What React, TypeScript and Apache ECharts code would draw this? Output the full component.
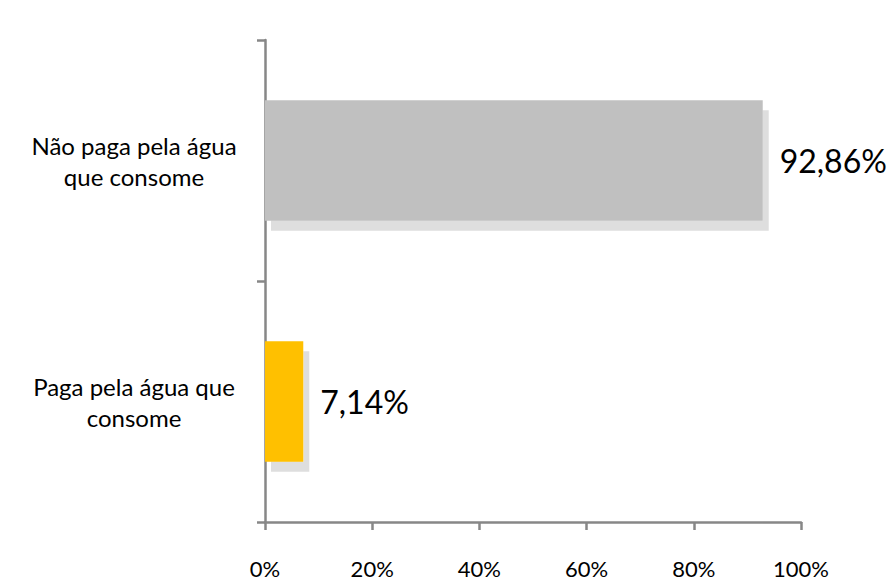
import React, { useEffect, useRef } from "react";
import * as echarts from "echarts";

const categories = ["Paga pela água que\nconsome", "Não paga pela água\nque consome"];
const values = [7.14, 92.86];
const barColors = ["#FFC000", "#C0C0C0"];
const xTicks = [0, 20, 40, 60, 80, 100];

export default function App() {
  const ref = useRef<HTMLDivElement>(null);
  useEffect(() => {
    if (!ref.current) return;
    const chart = echarts.init(ref.current, undefined, { renderer: "svg" });
    const font = "Lato, 'Open Sans', sans-serif";
    chart.setOption({
      animation: false,
      backgroundColor: "#ffffff",
      grid: { left: 265, right: 92, top: 40, bottom: 58 },
      xAxis: {
        type: "value",
        min: xTicks[0],
        max: xTicks[xTicks.length - 1],
        interval: 20,
        splitLine: { show: false },
        axisLine: { show: true, lineStyle: { color: "#878787", width: 2.5 } },
        axisTick: { show: true, length: 8, lineStyle: { color: "#878787", width: 2.5 } },
        axisLabel: {
          formatter: "{value}%",
          fontFamily: font,
          fontSize: 22,
          color: "#000",
          margin: 35,
        },
      },
      yAxis: {
        type: "category",
        data: categories,
        axisLine: { show: true, lineStyle: { color: "#878787", width: 2.5 } },
        axisTick: { show: true, length: 8, lineStyle: { color: "#878787", width: 2.5 } },
        axisLabel: {
          fontFamily: font,
          fontSize: 24,
          color: "#000",
          align: "center",
          margin: 131,
          lineHeight: 31,
        },
      },
      series: [
        {
          type: "bar",
          barWidth: "50%",
          data: values.map((v, i) => ({
            value: v,
            itemStyle: {
              color: barColors[i],
              shadowColor: "rgba(0,0,0,0.13)",
              shadowOffsetX: 6,
              shadowOffsetY: 10,
              shadowBlur: 0,
            },
          })),
          label: {
            show: true,
            position: "right",
            distance: 17,
            fontFamily: font,
            fontSize: 32,
            color: "#000",
            formatter: (p: any) => p.value.toFixed(2).replace(".", ",") + "%",
          },
        },
      ],
    });
    return () => chart.dispose();
  }, []);
  return <div ref={ref} style={{ width: 893, height: 580, position: "absolute", left: 0, top: 0 }} />;
}
